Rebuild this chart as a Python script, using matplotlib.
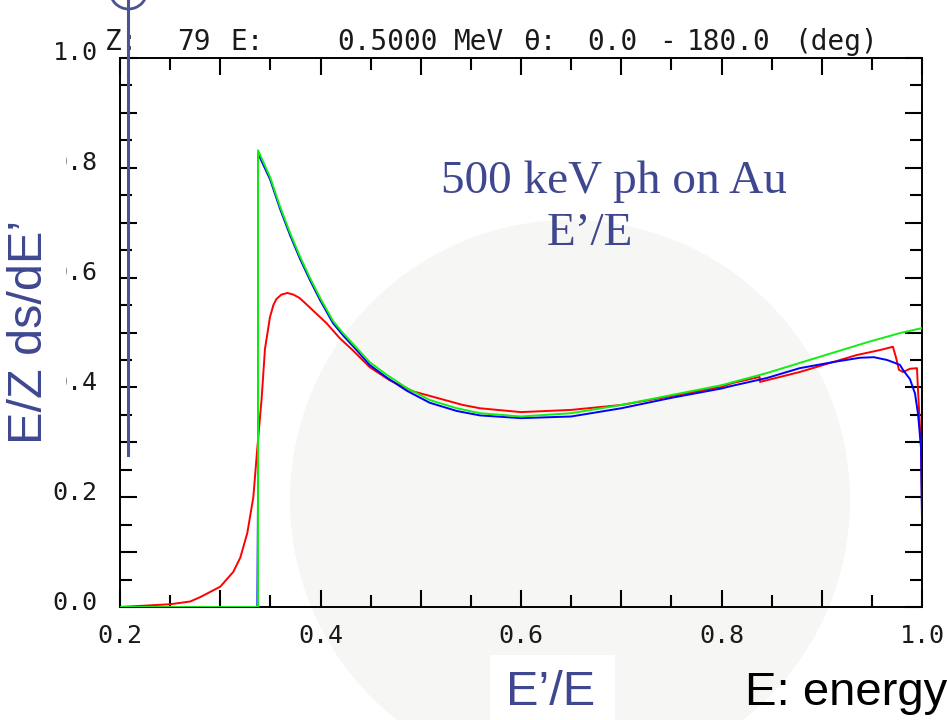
import matplotlib
matplotlib.use("Agg")
import matplotlib.pyplot as plt
import matplotlib.transforms as mtransforms
from matplotlib.patches import Rectangle, Circle
from matplotlib.lines import Line2D

# --- data (E'/E vs E/Z ds/dE') ---
green_x = [0.2, 0.3377, 0.3377, 0.3497, 0.3597, 0.3697, 0.3796, 0.3896, 0.3996, 0.4125,
           0.4224, 0.436, 0.449, 0.466, 0.486, 0.509, 0.536, 0.559, 0.60, 0.65, 0.70, 0.75,
           0.80, 0.845, 0.911, 0.945, 0.978, 1.0]
green_y = [0, 0, 0.832, 0.783, 0.729, 0.681, 0.638, 0.599, 0.563, 0.521,
           0.499, 0.472, 0.446, 0.423, 0.399, 0.377, 0.362, 0.353, 0.347, 0.353, 0.368, 0.386,
           0.404, 0.426, 0.463, 0.482, 0.499, 0.508]

blue_x = [0.2, 0.337, 0.3377, 0.3377, 0.3497, 0.3597, 0.3697, 0.3796, 0.3896, 0.3996, 0.4125,
          0.4224, 0.436, 0.449, 0.466, 0.486, 0.509, 0.536, 0.559, 0.60, 0.65, 0.70, 0.75,
          0.80, 0.811, 0.845, 0.878, 0.911, 0.938, 0.952, 0.965, 0.971, 0.978, 0.981, 0.988,
          0.993, 0.996, 0.999, 1.0]
blue_y = [0, 0, 0.22, 0.826, 0.779, 0.725, 0.677, 0.634, 0.595, 0.559, 0.517,
          0.495, 0.468, 0.441, 0.418, 0.394, 0.372, 0.357, 0.349, 0.344, 0.347, 0.362, 0.381,
          0.398, 0.403, 0.417, 0.435, 0.446, 0.454, 0.455, 0.450, 0.446, 0.441, 0.432, 0.415,
          0.389, 0.352, 0.291, 0.158]

red_x = [0.2, 0.25, 0.27, 0.28, 0.30, 0.313, 0.32, 0.327, 0.333, 0.337, 0.3413, 0.3446,
         0.3496, 0.353, 0.356, 0.361, 0.367, 0.373, 0.379, 0.385, 0.392, 0.399, 0.406,
         0.419, 0.432, 0.449, 0.469, 0.492, 0.516, 0.542, 0.559, 0.60, 0.65, 0.70, 0.75,
         0.80, 0.811, 0.838, 0.8385, 0.878, 0.911, 0.935, 0.958, 0.971, 0.974, 0.977,
         0.981, 0.988, 0.995, 0.996, 0.998, 0.999, 1.0]
red_y = [0, 0.005, 0.010, 0.018, 0.037, 0.064, 0.09, 0.135, 0.2, 0.29, 0.38, 0.47,
         0.528, 0.550, 0.561, 0.569, 0.572, 0.569, 0.563, 0.553, 0.541, 0.529, 0.517,
         0.49, 0.468, 0.437, 0.413, 0.393, 0.381, 0.368, 0.362, 0.355, 0.359, 0.368, 0.384,
         0.401, 0.408, 0.419, 0.41, 0.428, 0.446, 0.459, 0.468, 0.474, 0.455, 0.432,
         0.428, 0.434, 0.435, 0.395, 0.328, 0.291, 0.182]

x_ticks = [0.2, 0.3, 0.4, 0.5, 0.6, 0.7, 0.8, 0.9, 1.0]
x_labels = ["0.2", "", "0.4", "", "0.6", "", "0.8", "", "1.0"]
y_ticks = [0.0, 0.1, 0.2, 0.3, 0.4, 0.5, 0.6, 0.7, 0.8, 0.9, 1.0]
y_labels = ["0.0", "", "0.2", "", "0.4", "", "0.6", "", "0.8", "", "1.0"]

header = [("Z:", 105), ("79", 177), ("E:", 230), ("0.5000", 337), ("MeV", 454),
          ("\u03b8:", 523), ("0.0", 587), ("-", 659), ("180.0", 687), ("(deg)", 794)]

W, H = 947, 720
BLUE_TXT = "#3f478f"

fig = plt.figure(figsize=(W / 100, H / 100), dpi=100)
fig.patch.set_facecolor("white")

def px(x, y):
    return x / W, 1 - y / H

# faint watermark sphere behind everything
fig.patches.append(Circle((5.7, 2.2), 2.8, transform=fig.dpi_scale_trans,
                          facecolor="#f6f6f4", edgecolor="none", zorder=-2))

l, b = px(120, 607)
r, t = px(922, 58)
ax = fig.add_axes([l, b, r - l, t - b])
ax.set_facecolor("none")

ax.plot(red_x, red_y, color="#ff0000", lw=1.4, zorder=3)
ax.plot(blue_x, blue_y, color="#0000ff", lw=1.4, zorder=4)
ax.plot(green_x, green_y, color="#11ee11", lw=1.4, zorder=5)

ax.set_xlim(0.2, 1.0)
ax.set_ylim(0.0, 1.0)
ax.set_xticks(x_ticks)
ax.set_xticklabels(x_labels)
ax.set_yticks(y_ticks)
ax.set_yticklabels(y_labels)
ax.set_xticks([v + 0.05 for v in x_ticks[:-1]], minor=True)
ax.set_yticks([v + 0.05 for v in y_ticks[:-1]], minor=True)
ax.tick_params(which="both", direction="in", top=True, right=True, color="black",
               width=1.5, labelsize=18, labelcolor="#1a1a1a")
ax.tick_params(which="major", length=12.5)
ax.tick_params(which="minor", length=8.5)
ax.tick_params(axis="x", pad=12)
ax.tick_params(axis="y", pad=16)
for s in ax.spines.values():
    s.set_linewidth(1.4)
for lab in ax.get_xticklabels() + ax.get_yticklabels():
    lab.set_family("DejaVu Sans Mono")
shift = mtransforms.ScaledTranslation(0, 7 / 100, fig.dpi_scale_trans)
for lab in ax.get_yticklabels():
    lab.set_transform(lab.get_transform() + shift)

# header line
for txt, xp in header:
    fig.text(*px(xp, 50), txt, family="DejaVu Sans Mono", fontsize=20,
             color="#1a1a1a", ha="left", va="baseline")

# annotation inside plot
fig.text(*px(614, 193), "500 keV ph on Au", family="Liberation Serif", fontsize=34,
         color=BLUE_TXT, ha="center", va="baseline")
fig.text(*px(590, 245), "E\u2019/E", family="Liberation Serif", fontsize=34,
         color=BLUE_TXT, ha="center", va="baseline")

# y label box covering part of the tick labels
fig.patches.append(Rectangle(px(0, 450), 66 / W, 350 / H, transform=fig.transFigure,
                             facecolor="white", edgecolor="none", zorder=5))
fig.text(*px(30, 332), "E/Z ds/dE\u2019", family="Liberation Sans", fontsize=35,
         color=BLUE_TXT, rotation=90, ha="center", va="center", zorder=6)

# bottom labels
fig.patches.append(Rectangle(px(490, 720), 125 / W, 65 / H, transform=fig.transFigure,
                             facecolor="white", edgecolor="none", zorder=5))
fig.text(*px(551, 705), "E\u2019/E", family="Liberation Sans", fontsize=35,
         color=BLUE_TXT, ha="center", va="baseline", zorder=6)
fig.text(*px(745, 705), "E: energy", family="Liberation Sans", fontsize=34,
         color="black", ha="left", va="baseline", zorder=6)

# slide decoration: vertical blue line with circle
fig.lines.append(Line2D([128 / W, 128 / W], [1.0, 1 - 455 / H], transform=fig.transFigure,
                        color="#4b5394", lw=2.2, zorder=10))
fig.patches.append(Circle((1.285, 7.295), 0.185, transform=fig.dpi_scale_trans,
                          facecolor="none", edgecolor="#4b5394", lw=2.0, zorder=10))

fig.savefig("out.png", dpi=100)
